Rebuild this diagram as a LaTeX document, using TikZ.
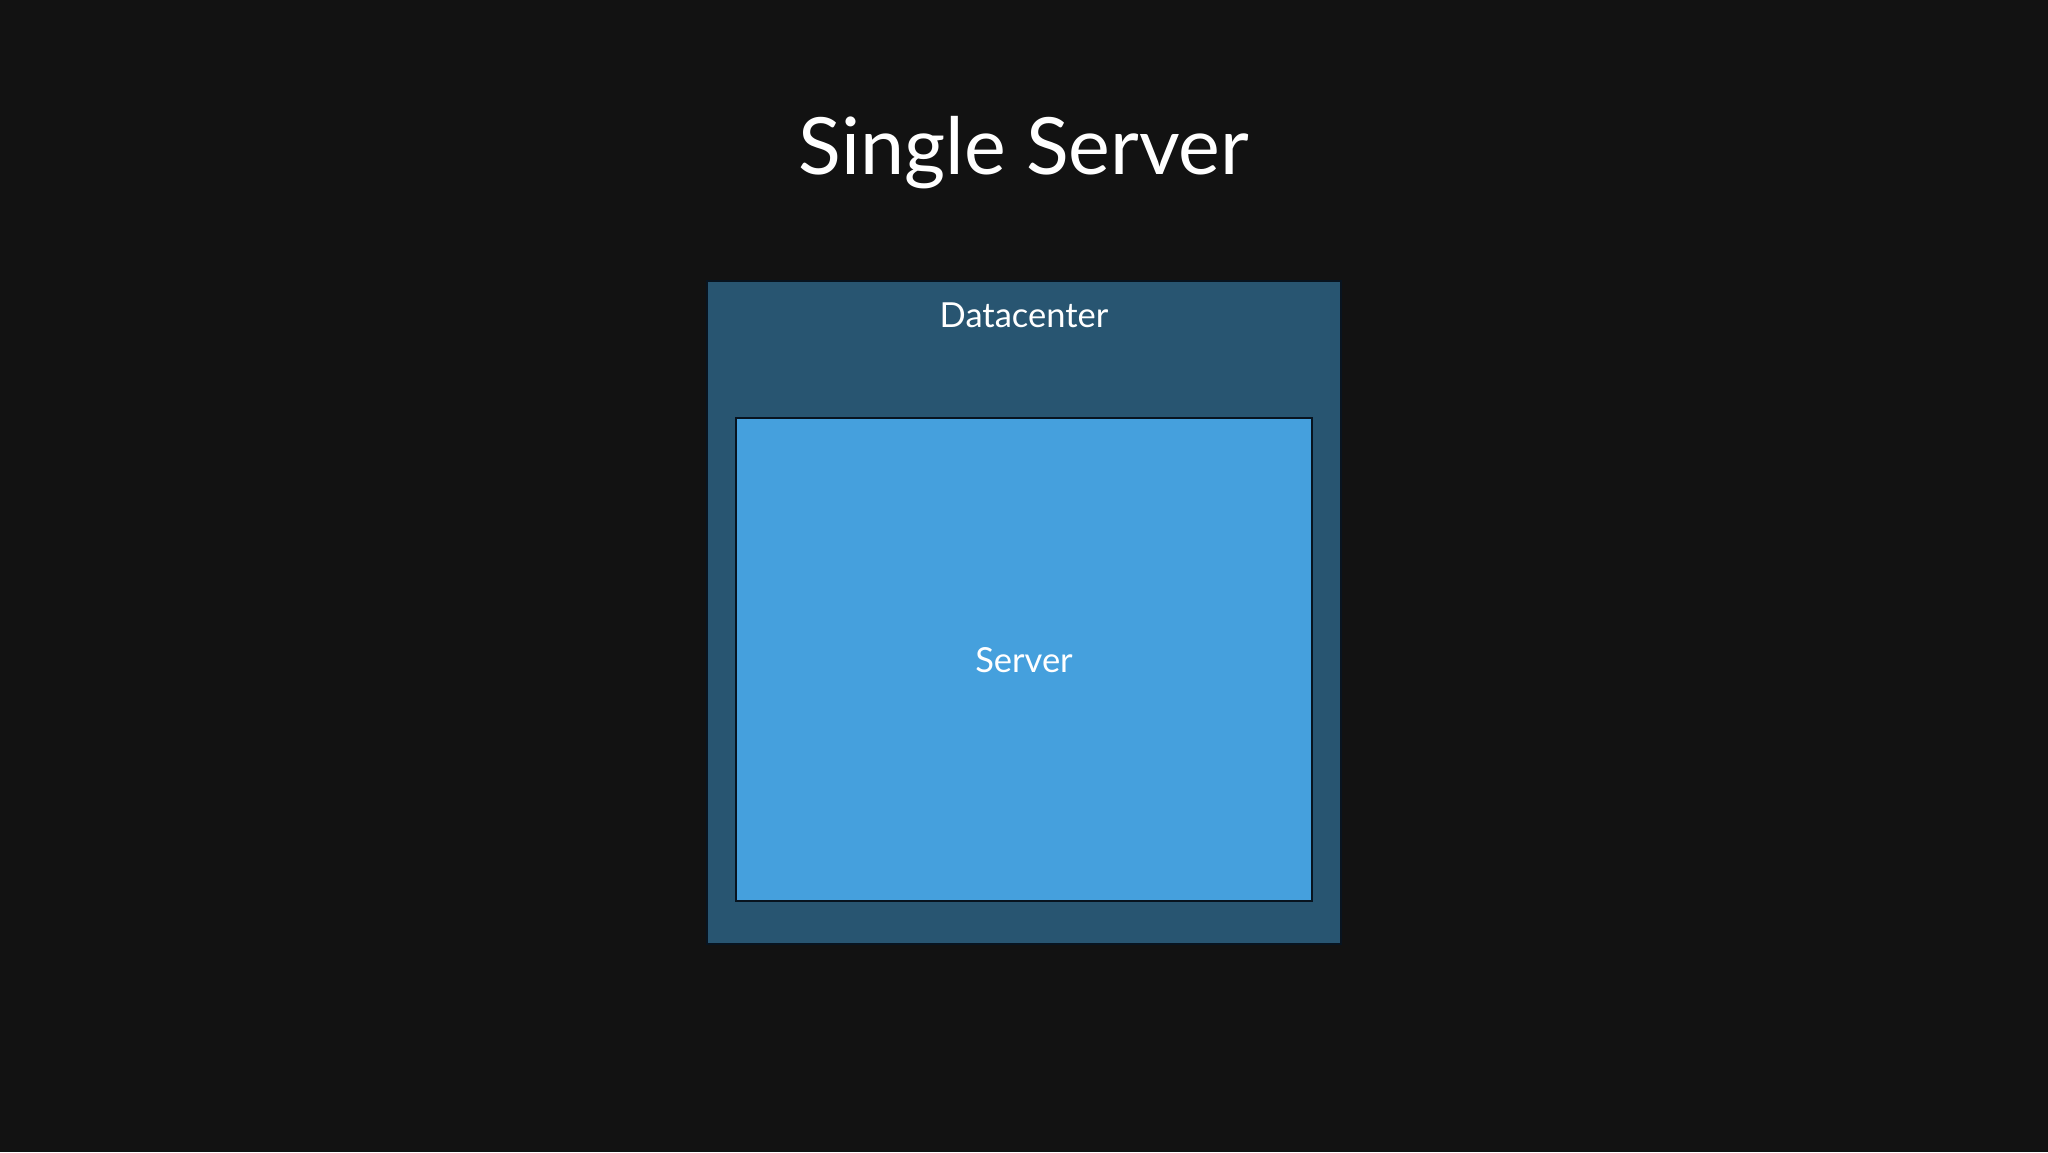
\documentclass[tikz,border=0pt]{standalone}
\usepackage{fontspec}
\setmainfont{Lato}
\definecolor{bgc}{RGB}{18,18,18}
\definecolor{dcfill}{RGB}{40,85,113}
\definecolor{srvfill}{RGB}{69,160,221}
\definecolor{edgec}{RGB}{8,20,32}
\begin{document}
\begin{tikzpicture}[x=1pt,y=-1pt,
  box/.style={draw=edgec,line width=2.5pt},
  lbl/.style={text=white,inner sep=0pt,anchor=base}]
\fill[bgc] (0,0) rectangle (2048,1152);
\useasboundingbox (0,0) rectangle (2048,1152);
\node[lbl,font=\fontsize{79}{90}\selectfont] (title) at (1024,174) {Single Server};
\draw[box,fill=dcfill] (707,281) rectangle (1341,944);
\node[lbl,font=\fontsize{34.5}{40}\selectfont] (dclabel) at (1024,327) {Datacenter};
\draw[box,fill=srvfill] (736,418) rectangle (1312,901);
\node[lbl,font=\fontsize{34.5}{40}\selectfont] (srv) at (1024,672) {Server};
\end{tikzpicture}
\end{document}
